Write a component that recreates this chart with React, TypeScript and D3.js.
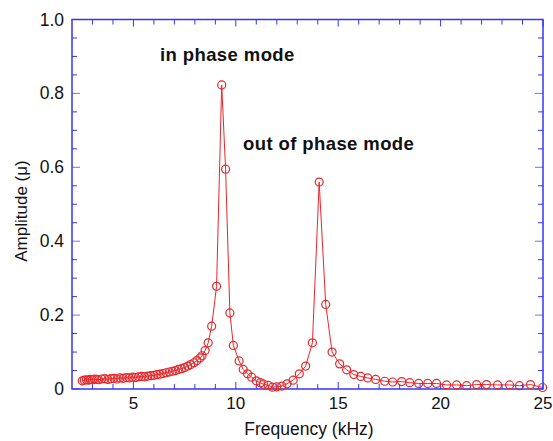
import React from "react";
import * as d3 from "d3";

const freqLow = [2.5, 2.6, 2.7, 2.8, 2.9, 3.0, 3.1, 3.2, 3.3, 3.45, 3.6, 3.75, 3.9, 4.05, 4.2, 4.35, 4.5, 4.65, 4.8, 4.95, 5.1, 5.25, 5.4, 5.55, 5.7, 5.85, 6.0, 6.15, 6.3, 6.45, 6.6, 6.75, 6.9, 7.05, 7.2, 7.35, 7.5, 7.65, 7.8, 7.95, 8.1, 8.25, 8.35];
const ampLow = [0.022, 0.024, 0.025, 0.024, 0.026, 0.025, 0.027, 0.026, 0.025, 0.027, 0.028, 0.026, 0.028, 0.029, 0.027, 0.030, 0.029, 0.031, 0.030, 0.032, 0.031, 0.033, 0.034, 0.033, 0.035, 0.036, 0.037, 0.039, 0.040, 0.042, 0.044, 0.046, 0.048, 0.050, 0.053, 0.055, 0.058, 0.062, 0.066, 0.071, 0.077, 0.084, 0.090];

const freqPeaks = [8.5, 8.65, 8.82, 9.06, 9.31, 9.5, 9.71, 9.88, 10.16, 10.36, 10.57, 10.77, 11.0, 11.2, 11.35, 11.58, 11.79, 12.0, 12.25, 12.5, 12.8, 13.1, 13.41, 13.74, 14.07, 14.39, 14.7];
const ampPeaks = [0.104, 0.125, 0.170, 0.278, 0.823, 0.595, 0.206, 0.118, 0.076, 0.053, 0.041, 0.032, 0.022, 0.017, 0.013, 0.010, 0.005, 0.006, 0.008, 0.014, 0.024, 0.041, 0.062, 0.125, 0.560, 0.229, 0.100];

const freqTail = [15.07, 15.41, 15.76, 16.1, 16.44, 16.83, 17.27, 17.66, 18.1, 18.49, 18.93, 19.37, 19.8, 20.29, 20.78, 21.27, 21.76, 22.24, 22.78, 23.37, 23.85, 24.39, 24.98];
const ampTail = [0.068, 0.052, 0.039, 0.034, 0.030, 0.026, 0.021, 0.019, 0.020, 0.017, 0.015, 0.015, 0.015, 0.011, 0.011, 0.009, 0.012, 0.012, 0.011, 0.011, 0.009, 0.012, 0.004];

const xTickLabels = [5, 10, 15, 20, 25];
const yTickLabels = [0, 0.2, 0.4, 0.6, 0.8, 1.0];
const annotations = ["in phase mode", "out of phase mode"];

const W = 553;
const H = 441;
const left = 72;
const right = 543;
const top = 19.5;
const bottom = 389;

const AXIS = "#3535f5";
const RED = "#e8262a";
const FONT = "'Liberation Sans', Arial, Helvetica, sans-serif";

export default function App() {
  const x = d3.scaleLinear().domain([2, 25]).range([left, right]);
  const y = d3.scaleLinear().domain([0, 1]).range([bottom, top]);

  const freqs = [...freqLow, ...freqPeaks, ...freqTail];
  const amps = [...ampLow, ...ampPeaks, ...ampTail];
  const pts: [number, number][] = freqs.map((f, i) => [f, amps[i]]);

  const line = d3
    .line<[number, number]>()
    .x((d) => x(d[0]))
    .y((d) => y(d[1]));

  const xMinor = d3.range(3, 25, 1).filter((v) => v % 5 !== 0);
  const yMinor = d3.range(0.05, 1.0, 0.05).filter((v) => Math.abs(v * 5 - Math.round(v * 5)) > 1e-6);

  return (
    <svg width={W} height={H} style={{ position: "absolute", left: 0, top: 0 }} fontFamily={FONT}>
      <rect x={0} y={0} width={W} height={H} fill="#fff" />
      {xMinor.map((v) => (
        <g key={"xm" + v}>
          <line x1={x(v)} x2={x(v)} y1={bottom} y2={bottom - 5} stroke={AXIS} strokeWidth={1} />
          <line x1={x(v)} x2={x(v)} y1={top} y2={top + 5} stroke={AXIS} strokeWidth={1} />
        </g>
      ))}
      {xTickLabels.map((v) => (
        <g key={"xM" + v}>
          <line x1={x(v)} x2={x(v)} y1={bottom} y2={bottom - 7} stroke={AXIS} strokeWidth={1} />
          <line x1={x(v)} x2={x(v)} y1={top} y2={top + 7} stroke={AXIS} strokeWidth={1} />
          <text x={x(v)} y={409} textAnchor="middle" fontSize={17} fill="#111">
            {v}
          </text>
        </g>
      ))}
      {yMinor.map((v) => (
        <g key={"ym" + v}>
          <line x1={left} x2={left + 5} y1={y(v)} y2={y(v)} stroke={AXIS} strokeWidth={1} />
          <line x1={right} x2={right - 5} y1={y(v)} y2={y(v)} stroke={AXIS} strokeWidth={1} />
        </g>
      ))}
      {yTickLabels.map((v) => (
        <g key={"yM" + v}>
          <line x1={left} x2={left + 8} y1={y(v)} y2={y(v)} stroke={AXIS} strokeOpacity={0.7} strokeWidth={1} />
          <line x1={right} x2={right - 8} y1={y(v)} y2={y(v)} stroke={AXIS} strokeOpacity={0.7} strokeWidth={1} />
          <text x={64} y={y(v) + 6} textAnchor="end" fontSize={17.5} fill="#111">
            {v === 0 ? "0" : v.toFixed(1)}
          </text>
        </g>
      ))}
      <rect x={left} y={top} width={right - left} height={bottom - top} fill="none" stroke={AXIS} strokeWidth={1.5} />
      <path d={line(pts) || ""} fill="none" stroke={RED} strokeWidth={1} />
      {pts.map((d, i) => (
        <circle key={i} cx={x(d[0])} cy={y(d[1])} r={4} fill="none" stroke={RED} strokeWidth={1.2} />
      ))}
      <text x={160} y={61} fontSize={18.5} letterSpacing={0.4} fontWeight="bold" fill="#111">
        {annotations[0]}
      </text>
      <text x={243} y={150} fontSize={18.5} letterSpacing={0.4} fontWeight="bold" fill="#111">
        {annotations[1]}
      </text>
      <text x={309} y={435} textAnchor="middle" fontSize={17.5} fill="#111">
        Frequency (kHz)
      </text>
      <text transform={`translate(26.5, 211) rotate(-90)`} textAnchor="middle" fontSize={17} fill="#111">
        Amplitude (μ)
      </text>
    </svg>
  );
}
